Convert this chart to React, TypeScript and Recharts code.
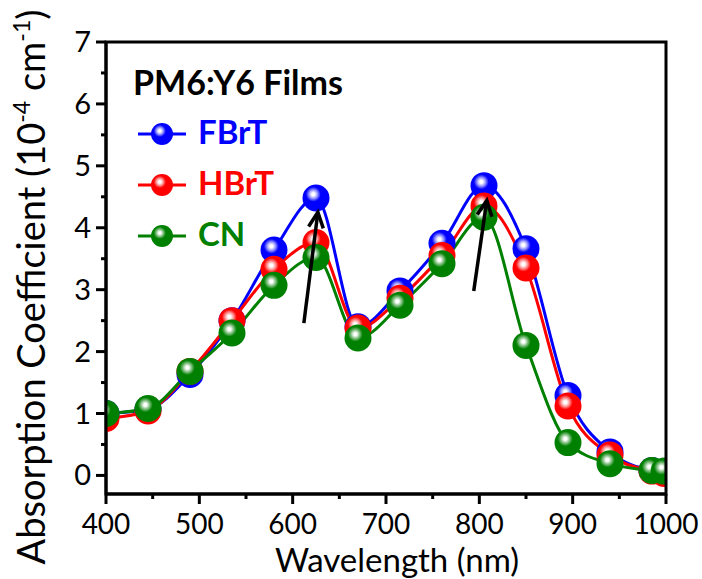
import React from 'react';
import { LineChart, Line, XAxis, YAxis, ReferenceLine, ReferenceArea } from 'recharts';

const wavelength = [400, 445, 490, 535, 580, 625, 670, 715, 760, 805, 850, 895, 940, 985, 998];
const fbrt = [1.0, 1.07, 1.63, 2.5, 3.64, 4.48, 2.4, 2.98, 3.75, 4.68, 3.66, 1.29, 0.38, 0.08, 0.05];
const hbrt = [0.92, 1.04, 1.68, 2.5, 3.33, 3.76, 2.38, 2.86, 3.55, 4.35, 3.35, 1.12, 0.33, 0.07, 0.03];
const cn = [1.0, 1.08, 1.68, 2.3, 3.07, 3.52, 2.22, 2.75, 3.42, 4.17, 2.1, 0.53, 0.19, 0.08, 0.07];

const xTicks = [400, 450, 500, 550, 600, 650, 700, 750, 800, 850, 900, 950, 1000];
const yTicks = [0, 0.5, 1, 1.5, 2, 2.5, 3, 3.5, 4, 4.5, 5, 5.5, 6, 6.5, 7];

// arrows pointing at the two absorption peaks (data coords)
const arrows = [
  { x1: 612, y1: 2.46, x2: 627, y2: 4.25 },
  { x1: 794, y1: 2.98, x2: 808, y2: 4.44 },
];

const series = [
  { key: 'fbrt', name: 'FBrT', color: '#0000ff', light: '#9a9aff' },
  { key: 'hbrt', name: 'HBrT', color: '#ff0000', light: '#ff9a9a' },
  { key: 'cn', name: 'CN', color: '#008000', light: '#8ac48a' },
];

const data = wavelength.map((w, i) => ({ w, fbrt: fbrt[i], hbrt: hbrt[i], cn: cn[i] }));

const FONT = 'Lato, "Open Sans", sans-serif';
const W = 702;
const H = 579;
const X_AXIS_H = 85;
const Y_AXIS_W = 106;
const MARGIN = { top: 42, right: 36, bottom: 0, left: 0 };
const X_DOMAIN = [400, 1000];
const Y_DOMAIN = [-0.3, 7];

const layer: React.CSSProperties = { position: 'absolute', left: 0, top: 0, pointerEvents: 'none' };

const XTick = ({ x, y, payload }: any) => {
  const major = payload.value % 100 === 0;
  return (
    <g>
      <line x1={x} x2={x} y1={y} y2={y + (major ? 10 : 5)} stroke="#000" strokeWidth={3} />
      {major && (
        <text x={x} y={y + 40} textAnchor="middle" fontSize={28} fontFamily={FONT} fill="#000">
          {payload.value}
        </text>
      )}
    </g>
  );
};

const YTick = ({ x, y, payload }: any) => {
  const major = Number.isInteger(payload.value);
  return (
    <g>
      <line x1={x} x2={x - (major ? 10 : 5)} y1={y} y2={y} stroke="#000" strokeWidth={3} />
      {major && (
        <text x={x - 15} y={y + 10} textAnchor="end" fontSize={29} fontFamily={FONT} fill="#000">
          {payload.value}
        </text>
      )}
    </g>
  );
};

const Arrow = (props: any) => {
  const { x1, y1, x2, y2 } = props;
  const a = Math.atan2(y2 - y1, x2 - x1);
  const len = 17;
  const spread = 0.45;
  const p1 = [x2 - len * Math.cos(a - spread), y2 - len * Math.sin(a - spread)];
  const p2 = [x2 - len * Math.cos(a + spread), y2 - len * Math.sin(a + spread)];
  return (
    <g>
      <line x1={x1} y1={y1} x2={x2} y2={y2} stroke="#000" strokeWidth={3.5} />
      <path d={`M${p1[0]},${p1[1]} L${x2},${y2} L${p2[0]},${p2[1]}`} fill="none" stroke="#000" strokeWidth={3.5} />
    </g>
  );
};

// invisible axes so the overlay charts share the same scales as the base chart
const hiddenAxes = [
  <XAxis key="x" dataKey="w" type="number" domain={X_DOMAIN} allowDataOverflow tick={false} tickLine={false} axisLine={false} height={X_AXIS_H} />,
  <YAxis key="y" type="number" domain={Y_DOMAIN} allowDataOverflow tick={false} tickLine={false} axisLine={false} width={Y_AXIS_W} />,
];

export default function App() {
  const plotW = W - Y_AXIS_W - MARGIN.right;
  const plotH = H - MARGIN.top - X_AXIS_H;
  return (
    <div style={{ position: 'absolute', left: 0, top: 0, width: W, height: H, background: '#fff' }}>
      <svg width={0} height={0} style={{ position: 'absolute' }}>
        <defs>
          {series.map((s) => (
            <radialGradient key={s.key} id={`ball-${s.key}`} cx="0.4" cy="0.36" r="0.55">
              <stop offset="0" stopColor="#ffffff" />
              <stop offset="0.1" stopColor="#ffffff" />
              <stop offset="0.28" stopColor={s.light} />
              <stop offset="0.5" stopColor={s.color} />
              <stop offset="1" stopColor={s.color} />
            </radialGradient>
          ))}
        </defs>
      </svg>

      {/* base: axes with ticks */}
      <div style={layer}>
        <LineChart width={W} height={H} data={data} margin={MARGIN}>
          <XAxis
            dataKey="w"
            type="number"
            domain={X_DOMAIN}
            allowDataOverflow
            ticks={xTicks}
            interval={0}
            tick={<XTick />}
            tickLine={false}
            tickSize={0}
            tickMargin={0}
            height={X_AXIS_H}
            axisLine={{ stroke: '#000', strokeWidth: 3 }}
          />
          <YAxis
            type="number"
            domain={Y_DOMAIN}
            allowDataOverflow
            ticks={yTicks}
            interval={0}
            tick={<YTick />}
            tickLine={false}
            tickSize={0}
            tickMargin={0}
            width={Y_AXIS_W}
            axisLine={{ stroke: '#000', strokeWidth: 3 }}
          />
        </LineChart>
      </div>

      {/* series, cut off at the plot box like the original */}
      <div style={{ position: 'absolute', left: Y_AXIS_W, top: MARGIN.top, width: plotW, height: plotH, overflow: 'hidden' }}>
        <div style={{ position: 'absolute', left: -Y_AXIS_W, top: -MARGIN.top }}>
          <LineChart width={W} height={H} data={data} margin={MARGIN}>
            {hiddenAxes}
            {series.map((s) => (
              <Line
                key={s.key}
                dataKey={s.key}
                type="monotone"
                stroke={s.color}
                strokeWidth={3}
                dot={{ r: 13.5, fill: `url(#ball-${s.key})`, stroke: 'none', strokeWidth: 0 }}
                activeDot={false}
                isAnimationActive={false}
              />
            ))}
          </LineChart>
        </div>
      </div>

      {/* frame and arrows on top */}
      <div style={layer}>
        <LineChart width={W} height={H} data={data} margin={MARGIN}>
          {hiddenAxes}
          <ReferenceArea x1={400} x2={1000} y1={-0.3} y2={7} fill="none" stroke="#000" strokeWidth={3} />
          {arrows.map((a, i) => (
            <ReferenceLine
              key={i}
              segment={[
                { x: a.x1, y: a.y1 },
                { x: a.x2, y: a.y2 },
              ]}
              shape={<Arrow />}
            />
          ))}
        </LineChart>
      </div>

      <svg width={W} height={H} style={layer}>
        <text x={45} y={287} transform="rotate(-90 45 287)" textAnchor="middle" fontSize={38} fontFamily={FONT} fill="#000">
          Absorption Coefficient (10
          <tspan dy={-15} fontSize={23}>-4</tspan>
          <tspan dy={15}> cm</tspan>
          <tspan dy={-15} fontSize={23}>-1</tspan>
          <tspan dy={15}>)</tspan>
        </text>
        <text x={397} y={572} textAnchor="middle" fontSize={33} fontFamily={FONT} fill="#000">
          Wavelength (nm)
        </text>
        <text x={133} y={95} fontSize={34} fontWeight="bold" fontFamily={FONT} fill="#000">
          PM6:Y6 Films
        </text>
        {series.map((s, i) => {
          const y = 134 + i * 51;
          return (
            <g key={s.key}>
              <line x1={138} x2={186} y1={y} y2={y} stroke={s.color} strokeWidth={3} />
              <circle cx={162} cy={y} r={11} fill={`url(#ball-${s.key})`} />
              <text x={198} y={y + 10} fontSize={33} fontWeight="bold" fontFamily={FONT} fill={s.color}>
                {s.name}
              </text>
            </g>
          );
        })}
      </svg>
    </div>
  );
}
